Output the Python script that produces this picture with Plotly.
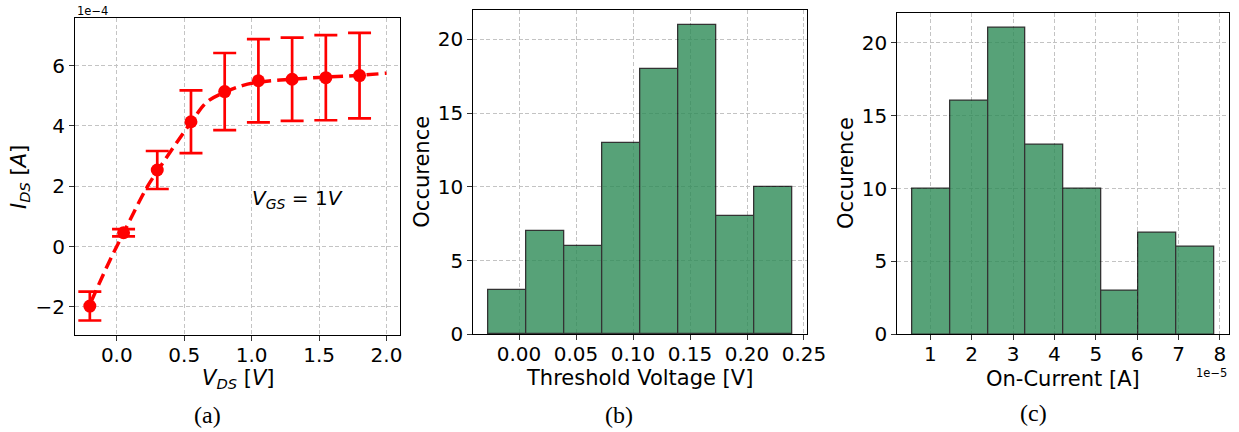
import plotly.graph_objects as go

# ---------------- data ----------------
# (a) I-V characteristic (currents in units of 1e-4 A)
vds = [-0.2, 0.05, 0.3, 0.55, 0.8, 1.05, 1.3, 1.55, 1.8]
ids_1e4 = [-1.97, 0.46, 2.54, 4.14, 5.14, 5.50, 5.55, 5.60, 5.67]
ids_err_1e4 = [0.48, 0.12, 0.63, 1.04, 1.28, 1.38, 1.38, 1.41, 1.42]
# dashed fitted curve
fit_vds = [-0.19, -0.05, 0.05, 0.22, 0.3, 0.55, 0.67, 0.8, 0.93, 1.05, 1.3, 1.55, 1.8, 2.0]
fit_ids_1e4 = [-1.82, -0.44, 0.45, 1.94, 2.5, 4.12, 4.80, 5.12, 5.34, 5.45, 5.55, 5.62, 5.68, 5.75]

# (b) threshold voltage histogram
vth_edges = [-0.0269, 0.0064, 0.0397, 0.0731, 0.1064, 0.1398, 0.1731, 0.2064, 0.2398]
vth_counts = [3, 7, 6, 13, 18, 21, 8, 10]

# (c) on-current histogram (units of 1e-5 A)
ion_edges_1e5 = [0.575, 1.485, 2.395, 3.305, 4.214, 5.125, 6.035, 6.945, 7.856]
ion_counts = [10, 16, 21, 13, 10, 3, 7, 6]

# tick labels
a_xticks = [0.0, 0.5, 1.0, 1.5, 2.0]
a_yticks = [-2, 0, 2, 4, 6]
b_xticks = [0.00, 0.05, 0.10, 0.15, 0.20, 0.25]
hist_yticks = [0, 5, 10, 15, 20]
c_xticks = [1, 2, 3, 4, 5, 6, 7, 8]

# ---------------- layout helpers ----------------
W, H = 1239, 432
def px(x):
    return x / W
def py(y):
    return 1 - y / H

FONT = "DejaVu Sans"
TICK_SIZE = 20
LABEL_SIZE = 21
GRID = "#c4c4c4"

fig = go.Figure()

# (a) fitted dashed curve
fig.add_trace(go.Scatter(
    x=fit_vds, y=fit_ids_1e4, mode="lines", line_shape="spline",
    line=dict(color="red", width=3.5, dash="12px,6px"),
    xaxis="x", yaxis="y", showlegend=False, hoverinfo="skip"))
# (a) measurements with error bars
fig.add_trace(go.Scatter(
    x=vds, y=ids_1e4, mode="markers",
    marker=dict(color="red", size=13),
    error_y=dict(type="data", array=ids_err_1e4, color="red",
                 thickness=2.7, width=11.5),
    xaxis="x", yaxis="y", showlegend=False))

# (b) histogram
vth_mid = [(vth_edges[i] + vth_edges[i + 1]) / 2 for i in range(len(vth_counts))]
vth_w = [vth_edges[i + 1] - vth_edges[i] for i in range(len(vth_counts))]
fig.add_trace(go.Bar(
    x=vth_mid, y=vth_counts, width=vth_w,
    marker=dict(color="seagreen", line=dict(color="black", width=1.3)),
    opacity=0.8, xaxis="x2", yaxis="y2", showlegend=False))

# (c) histogram
ion_mid = [(ion_edges_1e5[i] + ion_edges_1e5[i + 1]) / 2 for i in range(len(ion_counts))]
ion_w = [ion_edges_1e5[i + 1] - ion_edges_1e5[i] for i in range(len(ion_counts))]
fig.add_trace(go.Bar(
    x=ion_mid, y=ion_counts, width=ion_w,
    marker=dict(color="seagreen", line=dict(color="black", width=1.3)),
    opacity=0.8, xaxis="x3", yaxis="y3", showlegend=False))

def axis(domain, rng, tickvals, fmt, anchor, standoff=0):
    return dict(
        domain=domain, range=rng, anchor=anchor, automargin=False,
        tickvals=tickvals, tickformat=fmt, ticklabelstandoff=standoff,
        showgrid=True, gridcolor=GRID, gridwidth=1, griddash="4px,2.5px",
        zeroline=False, showline=True, linecolor="black", linewidth=1.2,
        mirror=True, ticks="outside", ticklen=5, tickwidth=1, tickcolor="#333",
        tickfont=dict(family=FONT, size=TICK_SIZE, color="black"),
        fixedrange=True)

layout = dict(
    template="none",
    width=W, height=H,
    margin=dict(l=0, r=0, t=0, b=0, pad=0),
    paper_bgcolor="white", plot_bgcolor="white",
    bargap=0,
    font=dict(family=FONT, color="black"),
    xaxis=axis([px(75), px(400)], [-0.31, 2.10], a_xticks, ".1f", "y", -3),
    yaxis=axis([py(335), py(18)], [-2.93, 7.58], a_yticks, "d", "x"),
    xaxis2=axis([px(473.3), px(807.3)], [-0.0401, 0.2529], b_xticks, ".2f", "y2", -3),
    yaxis2=axis([py(334.3), py(10)], [0, 22], hist_yticks, "d", "x2"),
    xaxis3=axis([px(897.3), px(1229.3)], [0.2025, 8.226], c_xticks, "d", "y3", -3),
    yaxis3=axis([py(334.3), py(12.7)], [0, 22.06], hist_yticks, "d", "x3"),
)
fig.update_layout(**layout)

def ann(text, x, y, size, xanchor="center", yanchor="middle", angle=0, family=FONT):
    fig.add_annotation(text=text, x=px(x), y=py(y), xref="paper", yref="paper",
                       showarrow=False, xanchor=xanchor, yanchor=yanchor,
                       textangle=angle, font=dict(family=family, size=size, color="black"))

# axis titles
ann("<i>V</i><sub><i>DS</i></sub> [<i>V</i>]", 238, 379, LABEL_SIZE)
ann("<i>I</i><sub><i>DS</i></sub> [<i>A</i>]", 20, 177, LABEL_SIZE, angle=-90)
ann("Threshold Voltage [V]", 640, 378, LABEL_SIZE)
ann("Occurence", 421.7, 172, LABEL_SIZE, angle=-90)
ann("On-Current [A]", 1063.3, 379, LABEL_SIZE)
ann("Occurence", 846, 173, LABEL_SIZE, angle=-90)

# offset (exponent) labels
ann("1e\u22124", 75, 11, 11.5, xanchor="left")
ann("1e\u22125", 1229, 373, 11.5, xanchor="right")

# in-plot annotation
fig.add_annotation(text="<i>V</i><sub><i>GS</i></sub> = 1<i>V</i>", x=0.99, y=1.58,
                   xref="x", yref="y", showarrow=False, xanchor="left", yanchor="middle",
                   font=dict(family=FONT, size=20, color="black"))

# captions
ann("(a)", 207, 415, 24, family="Liberation Serif")
ann("(b)", 619, 415, 24, family="Liberation Serif")
ann("(c)", 1033, 413, 24, family="Liberation Serif")

fig.write_html(
    "out.html",
    config={"displayModeBar": False},
    post_script="document.body.style.margin='0';document.body.style.overflow='hidden';",
)
